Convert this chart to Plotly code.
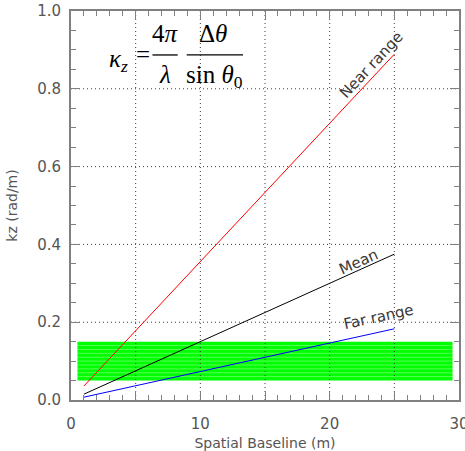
import plotly.graph_objects as go

# Vertical wavenumber kz versus spatial baseline
baseline_m = [1, 25]
kz_near = [0.036, 0.889]
kz_mean = [0.015, 0.375]
kz_far = [0.0073, 0.183]

# Sensitivity band (kz interval of interest)
band_baseline = [0.5, 29.5]
band_kz = [0.05, 0.15]

x_ticks = [0, 5, 10, 15, 20, 25, 30]
x_tick_text = ["0", "", "10", "", "20", "", "30"]
y_ticks = [0.0, 0.2, 0.4, 0.6, 0.8, 1.0]
y_tick_text = ["0.0", "0.2", "0.4", "0.6", "0.8", "1.0"]

FONT = "DejaVu Sans"
TXT = "#555555"
AX = "#808080"
GRID = dict(color="#3c3c3c", width=1, dash="1px,3px")

x_range = [0, 30]
y_range = [0, 1]

fig = go.Figure()

for kz, color in [(kz_near, "#ff0000"), (kz_mean, "#000000"), (kz_far, "#0000ff")]:
    fig.add_trace(go.Scatter(x=baseline_m, y=kz, mode="lines",
                             line=dict(color=color, width=1), showlegend=False,
                             hoverinfo="skip"))

shapes = [dict(type="rect", xref="x", yref="y",
               x0=band_baseline[0], x1=band_baseline[1],
               y0=band_kz[0], y1=band_kz[1],
               fillcolor="#00ff00", line=dict(width=0), layer="below")]

# faint hatch stripes across the band
n_stripes = 9
for i in range(1, n_stripes + 1):
    yv = band_kz[0] + (band_kz[1] - band_kz[0]) * i / (n_stripes + 1)
    shapes.append(dict(type="line", xref="x", yref="y",
                       x0=band_baseline[0], x1=band_baseline[1], y0=yv, y1=yv,
                       line=dict(color="rgba(255,255,255,0.35)", width=1),
                       layer="below"))

# dotted grid drawn over the band, under the curves
for xv in x_ticks[1:-1]:
    shapes.append(dict(type="line", xref="x", yref="y", x0=xv, x1=xv,
                       y0=y_range[0], y1=y_range[1], line=GRID, layer="between"))
for yv in y_ticks[1:-1]:
    shapes.append(dict(type="line", xref="x", yref="y", x0=x_range[0], x1=x_range[1],
                       y0=yv, y1=yv, line=GRID, layer="between"))

# fraction bars of the kz formula
for x0, x1 in [(6.3, 8.25), (8.95, 13.3)]:
    shapes.append(dict(type="line", xref="x", yref="y", x0=x0, x1=x1,
                       y0=0.887, y1=0.887, line=dict(color="#000", width=1.3)))

annotations = []
# curve labels
for text, x, y, ang in [("Near range", 23.2, 0.862, -47),
                        ("Mean", 22.2, 0.356, -24),
                        ("Far range", 23.74, 0.214, -12.3)]:
    annotations.append(dict(text=text, x=x, y=y, xref="x", yref="y",
                            showarrow=False, textangle=ang,
                            font=dict(family=FONT, size=15, color="#3a3a3a")))

# formula  kz = 4pi/lambda * dtheta/sin(theta0)
SERIF = "Liberation Serif"
for text, x, y in [("<i>κ<sub>z</sub></i>", 3.65, 0.872),
                   ("=", 5.57, 0.887),
                   ("4<i>π</i>", 7.27, 0.941),
                   ("<i>λ</i>", 7.27, 0.838),
                   ("Δ<i>θ</i>", 10.98, 0.941),
                   ("sin <i>θ</i><sub>0</sub>", 11.1, 0.832)]:
    annotations.append(dict(text=text, x=x, y=y, xref="x", yref="y",
                            showarrow=False,
                            font=dict(family=SERIF, size=25, color="#000")))

axis_common = dict(
    showline=True, linecolor=AX, linewidth=2, mirror="ticks",
    ticks="inside", ticklen=9, tickcolor=AX, tickwidth=1,
    showgrid=False, zeroline=False, automargin=False,
    ticklabeloverflow="allow",
    tickfont=dict(family=FONT, size=15, color=TXT),
)

fig.update_layout(
    width=465, height=451,
    margin=dict(l=71, r=6, t=11, b=51),
    paper_bgcolor="white", plot_bgcolor="white",
    shapes=shapes, annotations=annotations,
    xaxis=dict(range=x_range, tickvals=x_ticks, ticktext=x_tick_text,
               minor=dict(dtick=1, ticks="inside", ticklen=5, tickcolor=AX),
               title=dict(text="Spatial Baseline (m)", standoff=6,
                          font=dict(family=FONT, size=14, color=TXT)),
               ticklabelstandoff=9,
               **axis_common),
    yaxis=dict(range=y_range, tickvals=y_ticks, ticktext=y_tick_text,
               minor=dict(dtick=0.05, ticks="inside", ticklen=5, tickcolor=AX),
               title=dict(text="kz (rad/m)", standoff=16,
                          font=dict(family=FONT, size=14, color=TXT)),
               ticklabelstandoff=5,
               **axis_common),
)

fig.write_html("out.html")
